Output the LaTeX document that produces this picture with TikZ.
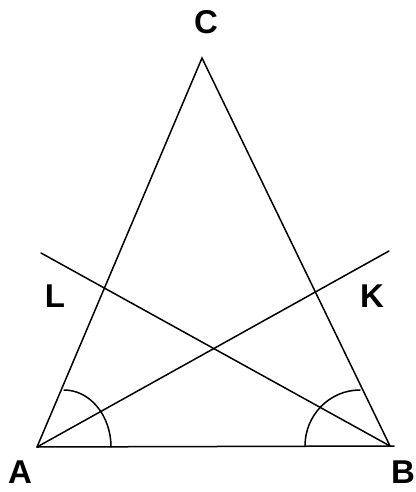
\documentclass[tikz,border=0pt]{standalone}
\usepackage{fontspec}
\setmainfont{Liberation Sans}
\begin{document}
\begin{tikzpicture}[x=1pt,y=-1pt,
  seg/.style={line width=1.5pt,line cap=round},
  lbl/.style={inner sep=0pt,font=\fontsize{33}{33}\selectfont\bfseries}]
\useasboundingbox (0,0) rectangle (415,492);
\coordinate (A) at (37,447);
\coordinate (B) at (390,446);
\coordinate (C) at (202,58);
\coordinate (Bend) at (394,446);
\coordinate (Lend) at (41,253);
\coordinate (Kend) at (389,251);
\draw[seg] (A) -- (Bend);
\draw[seg] (A) -- (C) -- (B);
\draw[seg] (Lend) -- (B);
\draw[seg] (A) -- (Kend);
% angle arcs
\draw[seg] (111,447) arc[start angle=0,end angle=-90,x radius=47,y radius=57];
\draw[seg] (305,446) arc[start angle=180,end angle=270,x radius=55,y radius=56];
\node[lbl] (lC) at (206,22) {C};
\node[lbl] (lL) at (55,296) {L};
\node[lbl] (lK) at (372,296) {K};
\node[lbl] (lA) at (20,472) {A};
\node[lbl] (lB) at (403,472) {B};
\end{tikzpicture}
\end{document}
